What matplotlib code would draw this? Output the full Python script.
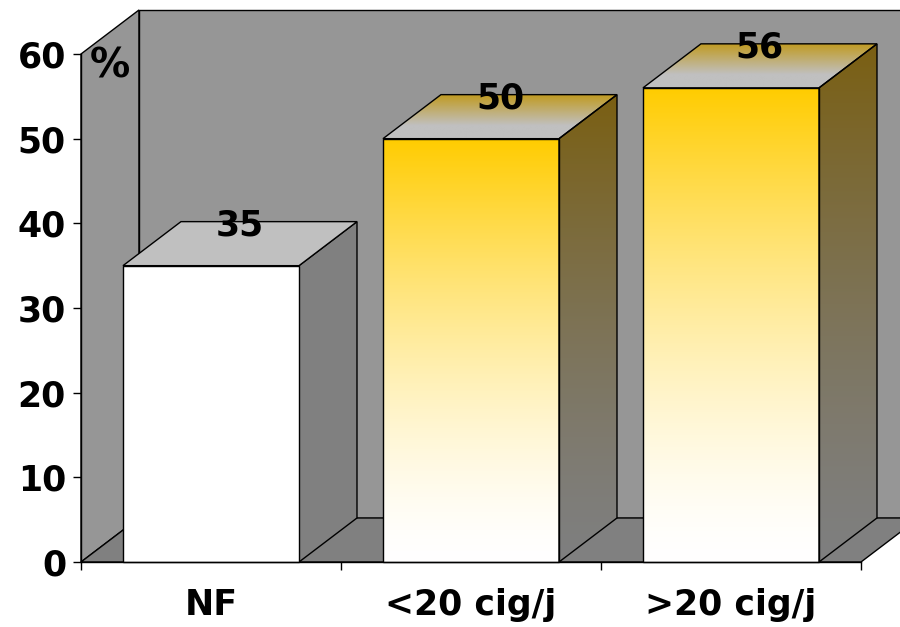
import numpy as np
import matplotlib
matplotlib.use("Agg")
import matplotlib.pyplot as plt
from matplotlib.patches import Polygon
from matplotlib.colors import to_rgb

categories = ["NF", "<20 cig/j", ">20 cig/j"]
values = [35, 50, 56]
yticks = [0, 10, 20, 30, 40, 50, 60]
unit_label = "%"
gradient_bar = [False, True, True]

plt.rcParams['font.family'] = ['DejaVu Sans']
plt.rcParams['font.weight'] = 'bold'

fig = plt.figure(figsize=(9, 6.27), dpi=100)
L, B, W, H = 81 / 900, 65 / 627, 780 / 900, 508 / 627
n = len(categories)
ymax = yticks[-1]

# drawing axes covering the whole figure, with data mapping identical to the front plane
axd = fig.add_axes([0, 0, 1, 1])
axd.set_axis_off()
xl = (-L / W * n, (1 - L) / W * n)
yl = (-B / H * ymax, (1 - B) / H * ymax)

# front axes (ticks, spines, labels)
ax = fig.add_axes([L, B, W, H], zorder=5)
ax.set_xlim(0, n)
ax.set_ylim(0, ymax)
ax.patch.set_visible(False)

DX = 0.223   # depth offset in category units
DY = 5.2     # depth offset in value units
GAP = 0.1615
EDGE = dict(edgecolor='black', linewidth=1.0)

wall = '#969696'
floor = '#808080'

axd.add_patch(Polygon([(0, 0), (DX, DY), (DX, ymax + DY), (0, ymax)], facecolor=wall, zorder=1, **EDGE))
axd.add_patch(Polygon([(DX, DY), (n + DX, DY), (n + DX, ymax + DY), (DX, ymax + DY)], facecolor=wall, zorder=1, **EDGE))
axd.add_patch(Polygon([(0, 0), (n, 0), (n + DX, DY), (DX, DY)], facecolor=floor, zorder=1, **EDGE))


def grad(c0, c1, w):
    c0 = np.array(to_rgb(c0)); c1 = np.array(to_rgb(c1))
    w = np.asarray(w)[:, None]
    arr = c0 * (1 - w) + c1 * w
    return arr[:, None, :].repeat(2, axis=1)


def fill_grad(poly_pts, arr, extent, z):
    axd.add_patch(Polygon(poly_pts, facecolor='none', zorder=z + 0.5, **EDGE))
    clip = Polygon(poly_pts, transform=axd.transData)
    im = axd.imshow(arr, extent=extent, origin='lower', aspect='auto',
                    interpolation='bilinear', zorder=z)
    im.set_clip_path(clip)


t = np.linspace(0, 1, 256)
for i, (v, g) in enumerate(zip(values, gradient_bar)):
    x0 = i + GAP
    x1 = i + 1 - GAP
    z = 3 + i
    side = [(x1, 0), (x1 + DX, DY), (x1 + DX, v + DY), (x1, v)]
    top = [(x0, v), (x1, v), (x1 + DX, v + DY), (x0 + DX, v + DY)]
    front = [(x0, 0), (x1, 0), (x1, v), (x0, v)]
    if g:
        fill_grad(side, grad('#7F7F7F', '#7A5F12', t ** 1.4), [x1, x1 + DX, 0, v + DY], z)
        fill_grad(top, grad('#C0C0C0', '#C09A1E', np.clip((t - 0.3) / 0.7, 0, 1)),
                  [x0, x1 + DX, v, v + DY], z)
        fill_grad(front, grad('#FFFFFF', '#FFCC00', t ** 1.5), [x0, x1, 0, v], z)
    else:
        axd.add_patch(Polygon(side, facecolor='#808080', zorder=z, **EDGE))
        axd.add_patch(Polygon(top, facecolor='#C0C0C0', zorder=z, **EDGE))
        axd.add_patch(Polygon(front, facecolor='#FFFFFF', zorder=z, **EDGE))
    axd.text(i + 0.5 + DX / 2, v + DY - 1.6, str(v), ha='center', va='baseline',
             fontsize=25, fontweight='bold', zorder=10)

axd.text(0.1115, 57.2, unit_label, ha='center', va='baseline', fontsize=29,
         fontweight='bold', zorder=10)

axd.set_xlim(*xl)
axd.set_ylim(*yl)

for s in ['top', 'right']:
    ax.spines[s].set_visible(False)
for s in ['left', 'bottom']:
    ax.spines[s].set_linewidth(1.0)

ax.set_yticks(yticks)
ax.set_yticklabels([str(y) for y in yticks], fontsize=25, fontweight='bold')
ax.tick_params(axis='y', direction='out', length=5.8, width=1.0, pad=5)

ax.set_xticks(np.arange(n + 1))
ax.set_xticklabels([''] * (n + 1))
ax.set_xticks(np.arange(n) + 0.5, minor=True)
ax.set_xticklabels(categories, minor=True, fontsize=25, fontweight='bold')
ax.tick_params(axis='x', which='major', direction='out', length=5.8, width=1.0)
ax.tick_params(axis='x', which='minor', length=0, pad=18.5)

fig.savefig('out.png', dpi=100)
